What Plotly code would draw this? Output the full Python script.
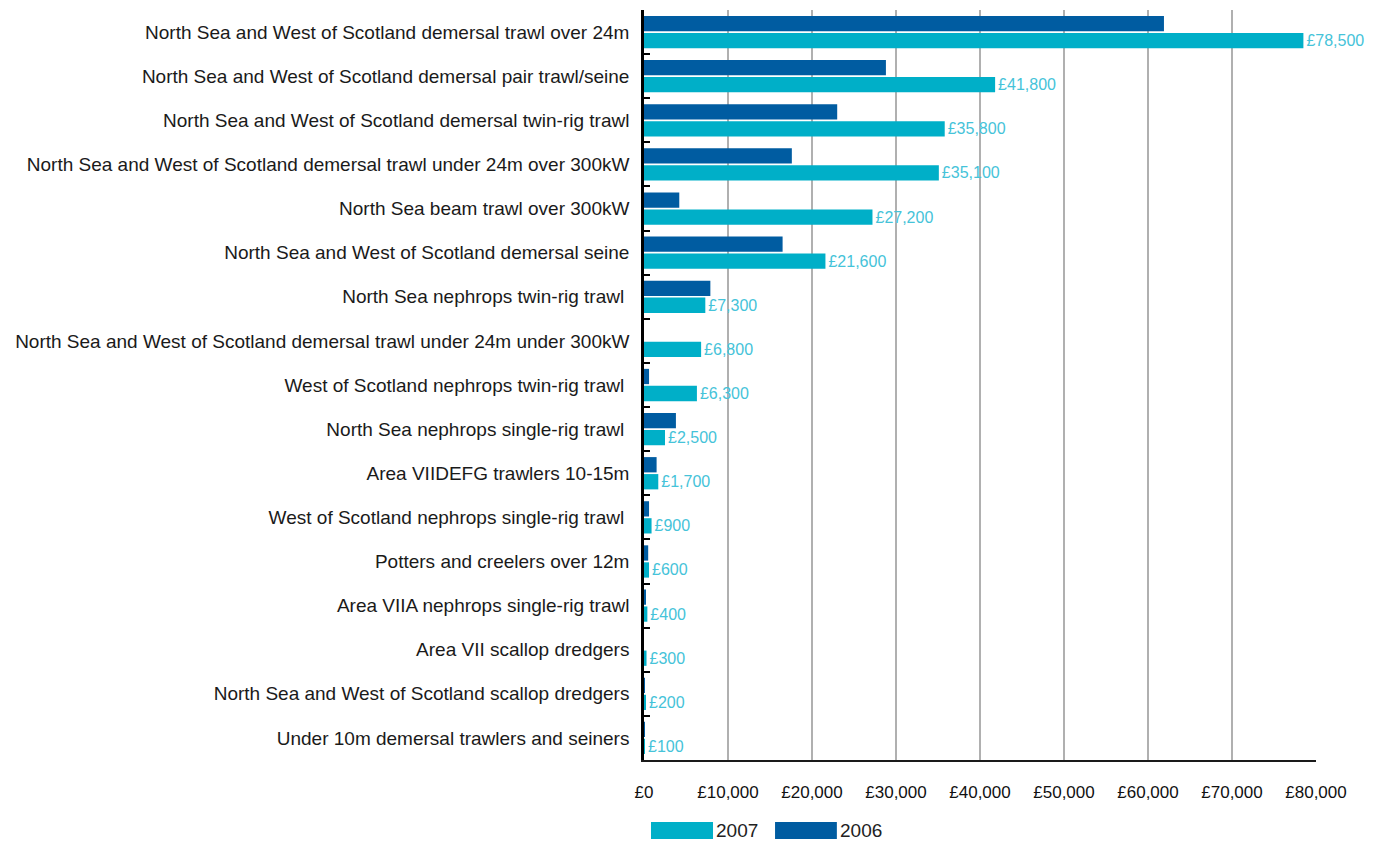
import plotly.graph_objects as go

categories = [
    "North Sea and West of Scotland demersal trawl over 24m",
    "North Sea and West of Scotland demersal pair trawl/seine",
    "North Sea and West of Scotland demersal twin-rig trawl",
    "North Sea and West of Scotland demersal trawl under 24m over 300kW",
    "North Sea beam trawl over 300kW",
    "North Sea and West of Scotland demersal seine",
    "North Sea nephrops twin-rig trawl ",
    "North Sea and West of Scotland demersal trawl under 24m under 300kW",
    "West of Scotland nephrops twin-rig trawl ",
    "North Sea nephrops single-rig trawl ",
    "Area VIIDEFG trawlers 10-15m",
    "West of Scotland nephrops single-rig trawl ",
    "Potters and creelers over 12m",
    "Area VIIA nephrops single-rig trawl",
    "Area VII scallop dredgers",
    "North Sea and West of Scotland scallop dredgers",
    "Under 10m demersal trawlers and seiners",
]
values_2007 = [78500, 41800, 35800, 35100, 27200, 21600, 7300, 6800, 6300, 2500,
               1700, 900, 600, 400, 300, 200, 100]
values_2006 = [61900, 28800, 23000, 17600, 4200, 16500, 7900, 0, 600, 3800,
               1500, 600, 500, 150, 0, 100, 100]
x_ticks = [0, 10000, 20000, 30000, 40000, 50000, 60000, 70000, 80000]
x_tick_labels = ["£0", "£10,000", "£20,000", "£30,000", "£40,000", "£50,000",
                 "£60,000", "£70,000", "£80,000"]

C2006 = "#005ca1"
C2007 = "#00afc8"

fig = go.Figure()
fig.add_trace(go.Bar(
    y=categories, x=values_2006, orientation="h", name="2006",
    marker=dict(color=C2006, line=dict(width=0)),
))
fig.add_trace(go.Bar(
    y=categories, x=values_2007, orientation="h", name="2007",
    marker=dict(color=C2007, line=dict(width=0)),
    text=[f"£{v:,}" for v in values_2007], textposition="outside",
    constraintext="none",
    textfont=dict(color="#45c3d9", size=16, family="Liberation Sans, Arial, sans-serif"),
    cliponaxis=False,
))

# page body has an 8px margin: compensate so the chart sits where the reference is
W, H = 1376, 833
fig.update_layout(
    width=W, height=H,
    paper_bgcolor="white", plot_bgcolor="white",
    margin=dict(l=636, r=68, t=2, b=81, autoexpand=False),
    barmode="group", bargap=0.23, bargroupgap=0.1,
    showlegend=False,
    font=dict(family="Liberation Sans, Arial, sans-serif", color="#1a1a1a"),
)
fig.update_yaxes(
    autorange="reversed", type="category",
    showline=True, linecolor="black", linewidth=2.5,
    ticks="inside", tickson="boundaries", ticklen=6, tickcolor="black", tickwidth=1.5,
    tickfont=dict(size=19, color="#1a1a1a"),
    ticklabelstandoff=8,
    showgrid=False,
)
fig.update_xaxes(
    range=[0, 80000], tickvals=x_ticks, ticktext=x_tick_labels,
    showgrid=True, gridcolor="#b0b0b0", gridwidth=1.5,
    showline=True, linecolor="#1a1a1a", linewidth=2,
    ticks="", ticklabelstandoff=16,
    tickfont=dict(size=17, family="Liberation Sans Narrow, Liberation Sans, Arial", color="#111"),
    zeroline=False,
)

# custom legend (paper coordinates)
legend_items = [("2007", C2007, 0.0104, 0.1027, 0.107),
                ("2006", C2006, 0.195, 0.287, 0.2917)]
for name, col, xa, xb, xt in legend_items:
    fig.add_shape(type="rect", xref="paper", yref="paper",
                  x0=xa, x1=xb, y0=-0.1053, y1=-0.0827,
                  fillcolor=col, line=dict(width=0))
    fig.add_annotation(xref="paper", yref="paper", x=xt, y=-0.094,
                       text=name, showarrow=False, xanchor="left", yanchor="middle",
                       xshift=-2,
                       font=dict(size=19, family="Liberation Sans Narrow, Liberation Sans, Arial", color="#222"))

fig.write_html("out.html")
